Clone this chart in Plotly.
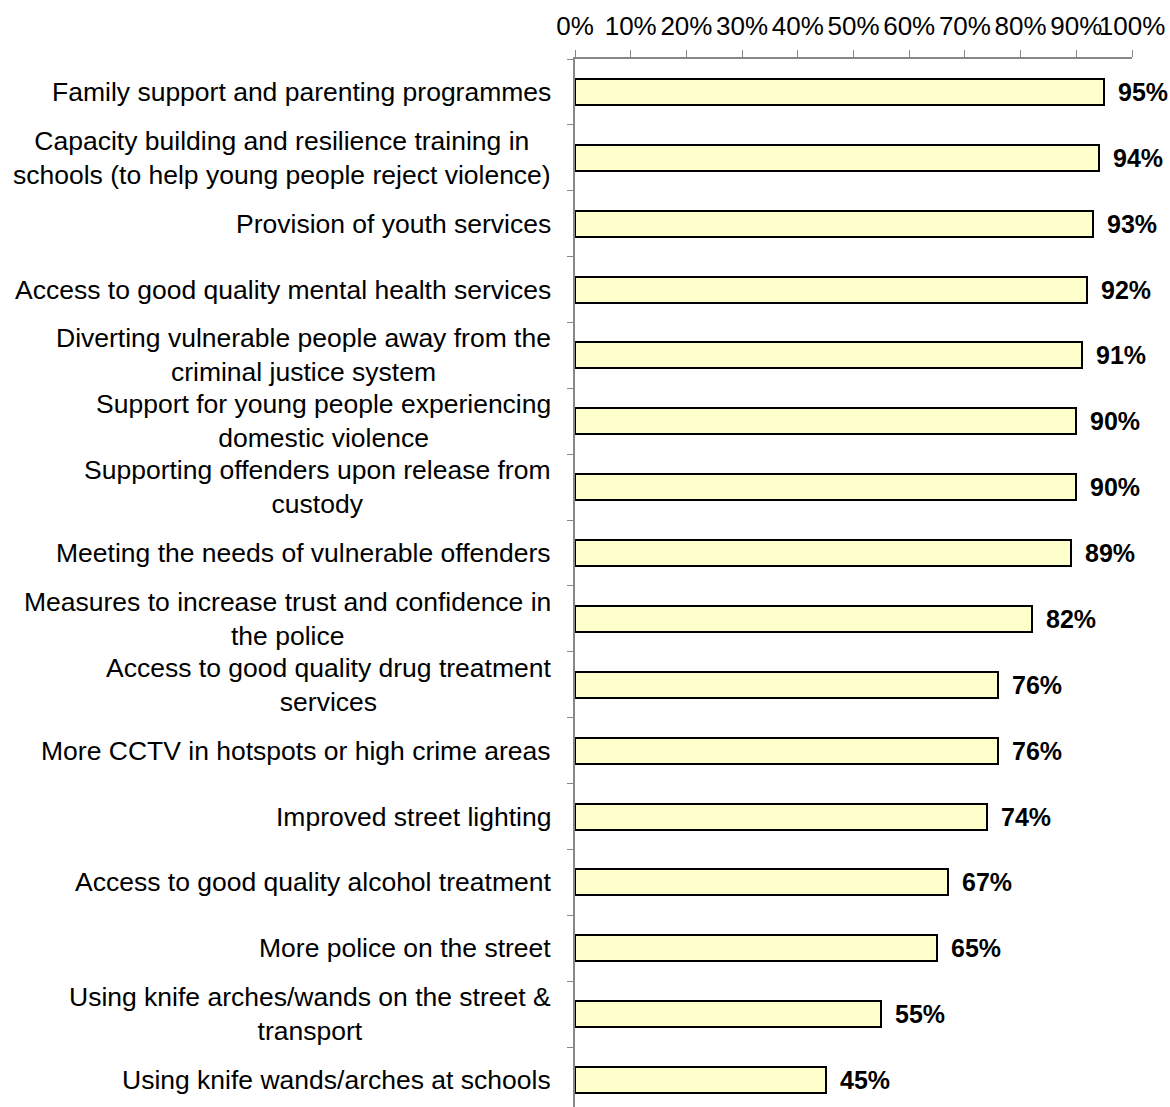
import plotly.graph_objects as go

# Survey measures, listed top to bottom, with share of respondents in support (%)
categories = [
    "Family support and parenting programmes",
    "Capacity building and resilience training in<br>schools (to help young people reject violence)",
    "Provision of youth services",
    "Access to good quality mental health services",
    "Diverting vulnerable people away from the<br>criminal justice system",
    "Support for young people experiencing<br>domestic violence",
    "Supporting offenders upon release from<br>custody",
    "Meeting the needs of vulnerable offenders",
    "Measures to increase trust and confidence in<br>the police",
    "Access to good quality drug treatment<br>services",
    "More CCTV in hotspots or high crime areas",
    "Improved street lighting",
    "Access to good quality alcohol treatment",
    "More police on the street",
    "Using knife arches/wands on the street &<br>transport",
    "Using knife wands/arches at schools",
]
support = [95, 94, 93, 92, 91, 90, 90, 89, 82, 76, 76, 74, 67, 65, 55, 45]
x_ticks = [0, 10, 20, 30, 40, 50, 60, 70, 80, 90, 100]

positions = list(range(len(categories)))
FONT = "Liberation Sans, Arial, sans-serif"

fig = go.Figure(
    go.Bar(
        x=support,
        y=positions,
        orientation="h",
        width=0.395,
        marker=dict(color="#FFFFCC", line=dict(color="#000000", width=2)),
        hoverinfo="skip",
    )
)

annotations = []
# Category labels: wrapped lines centred within the block,
# block right-aligned just left of the axis
for pos, label in zip(positions, categories):
    annotations.append(dict(
        x=0, xref="paper", y=pos, yref="y",
        text=label, showarrow=False,
        xanchor="right", yanchor="middle", align="center",
        xshift=-22,
        font=dict(family=FONT, size=26.5, color="#000000"),
    ))

# Value labels at the end of each bar
for pos, val in zip(positions, support):
    annotations.append(dict(
        x=val, xref="x", y=pos, yref="y",
        text=f"<b>{val}%</b>", showarrow=False,
        xanchor="left", yanchor="middle",
        xshift=12,
        font=dict(family=FONT, size=25, color="#000000"),
    ))

fig.update_layout(
    width=1170,
    height=1107,
    margin=dict(l=575, r=38, t=59, b=0, autoexpand=False),
    paper_bgcolor="white",
    plot_bgcolor="white",
    showlegend=False,
    bargap=0,
    annotations=annotations,
    xaxis=dict(
        side="top",
        range=[0, 100],
        tickvals=x_ticks,
        ticktext=[f"{v}%" for v in x_ticks],
        tickangle=0,
        automargin=False,
        ticks="outside",
        ticklen=7,
        tickcolor="#888888",
        ticklabelstandoff=5,
        showline=True,
        linecolor="#888888",
        linewidth=1.5,
        showgrid=False,
        zeroline=False,
        tickfont=dict(family=FONT, size=26, color="#000000"),
        fixedrange=True,
    ),
    yaxis=dict(
        range=[15.41, -0.5],
        tickvals=positions,
        showticklabels=False,
        automargin=False,
        ticks="",
        showline=True,
        linecolor="#888888",
        linewidth=1.5,
        showgrid=False,
        zeroline=False,
        minor=dict(
            tickvals=[p - 0.5 for p in positions],
            ticks="outside",
            ticklen=6,
            tickcolor="#888888",
            showgrid=False,
        ),
        fixedrange=True,
    ),
)

fig.write_html("out.html")
